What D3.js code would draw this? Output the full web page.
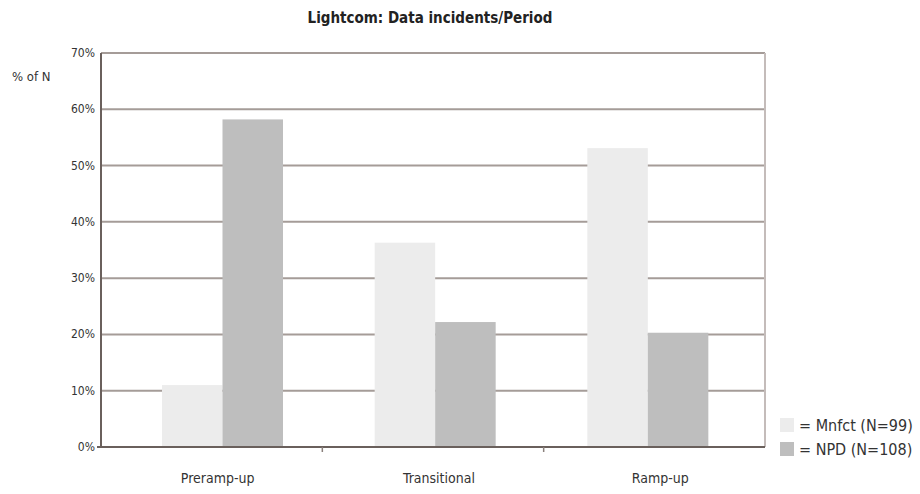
<!DOCTYPE html>
<html>
<head>
<meta charset="utf-8">
<script src="https://cdn.jsdelivr.net/npm/d3@7"></script>
<style>
body { margin: 0; background: #fff; }
text { font-family: "Liberation Sans Narrow", "DejaVu Sans Condensed", Arial, sans-serif; fill: #333; }
</style>
</head>
<body>
<svg id="chart"></svg>
<script>
var w = 920, h = 494;
var categories = ["Preramp-up", "Transitional", "Ramp-up"];
var series = ["Mnfct", "NPD"];
var mnfct = [11, 36.3, 53.1];
var npd = [58.2, 22.2, 20.3];
var legend_labels = ["= Mnfct (N=99)", "= NPD (N=108)"];
var y_ticks = [0, 10, 20, 30, 40, 50, 60, 70];
var colors = ["#ececec", "#bebebe"];

var plot_left = 101, plot_right = 765, plot_top = 53, plot_bottom = 447;

var svg = d3.select("#chart").attr("width", w).attr("height", h);

// full-width bands for labels and separators, slightly tighter bands for the bars (as in the source)
var x0 = d3.scaleBand().domain(categories).range([plot_left, plot_right]);
var xb = d3.scaleBand().domain(categories).range([plot_left, plot_right - 26]);
var x1 = d3.scaleBand().domain(series).range([61, 182]);
var y = d3.scaleLinear().domain([0, 70]).range([plot_bottom, plot_top]);

// grid lines
svg.append("g").selectAll("line").data(y_ticks.slice(1))
   .enter().append("line")
   .attr("x1", plot_left).attr("x2", plot_right)
   .attr("y1", d => y(d)).attr("y2", d => y(d))
   .style("stroke", "#a59c98").style("stroke-width", "2px");

// right border
svg.append("line").attr("x1", plot_right).attr("x2", plot_right).attr("y1", plot_top).attr("y2", plot_bottom)
   .style("stroke", "#c4bcba").style("stroke-width", "2px");

// bars
var data = [];
categories.forEach(function(c, i){
    data.push({cat: c, s: "Mnfct", v: mnfct[i]});
    data.push({cat: c, s: "NPD", v: npd[i]});
});
svg.append("g").selectAll("rect").data(data)
   .enter().append("rect")
   .attr("x", d => xb(d.cat) + x1(d.s))
   .attr("width", x1.bandwidth())
   .attr("y", d => y(d.v))
   .attr("height", d => plot_bottom - y(d.v))
   .attr("fill", d => d.s == "Mnfct" ? colors[0] : colors[1]);

// axes
svg.append("line").attr("x1", plot_left).attr("x2", plot_left).attr("y1", plot_top).attr("y2", plot_bottom)
   .style("stroke", "#6a605c").style("stroke-width", "2px");
svg.append("line").attr("x1", plot_left - 4).attr("x2", plot_right).attr("y1", plot_bottom).attr("y2", plot_bottom)
   .style("stroke", "#6a605c").style("stroke-width", "2px");

// category separators
svg.append("g").selectAll("line").data(categories.slice(1))
   .enter().append("line")
   .attr("x1", d => x0(d)).attr("x2", d => x0(d))
   .attr("y1", plot_bottom).attr("y2", plot_bottom + 5)
   .style("stroke", "#8a807c").style("stroke-width", "1.5px");

// y tick labels
svg.append("g").selectAll("text").data(y_ticks)
   .enter().append("text")
   .attr("x", plot_left - 6).attr("y", d => y(d) + 4)
   .attr("text-anchor", "end")
   .style("font-size", "12px")
   .text(d => d + "%");

// x labels
svg.append("g").selectAll("text").data(categories)
   .enter().append("text")
   .attr("x", d => x0(d) + x0.bandwidth() / 2 + 6)
   .attr("y", 483)
   .attr("text-anchor", "middle")
   .style("font-size", "14px")
   .text(d => d);

// title
svg.append("text").attr("x", 430).attr("y", 23).attr("text-anchor", "middle")
   .style("font-size", "15px").style("font-weight", "bold").style("fill", "#222")
   .text("Lightcom: Data incidents/Period");

// y axis title
svg.append("text").attr("x", 12).attr("y", 81)
   .style("font-size", "13px")
   .text("% of N");

// legend
legend_labels.forEach(function(t, i){
    svg.append("rect").attr("x", 780).attr("y", 418 + i * 24).attr("width", 14).attr("height", 14)
       .attr("fill", colors[i]);
    svg.append("text").attr("x", 799).attr("y", 431 + i * 24)
       .style("font-size", "16px")
       .text(t);
});
</script>
</body>
</html>
